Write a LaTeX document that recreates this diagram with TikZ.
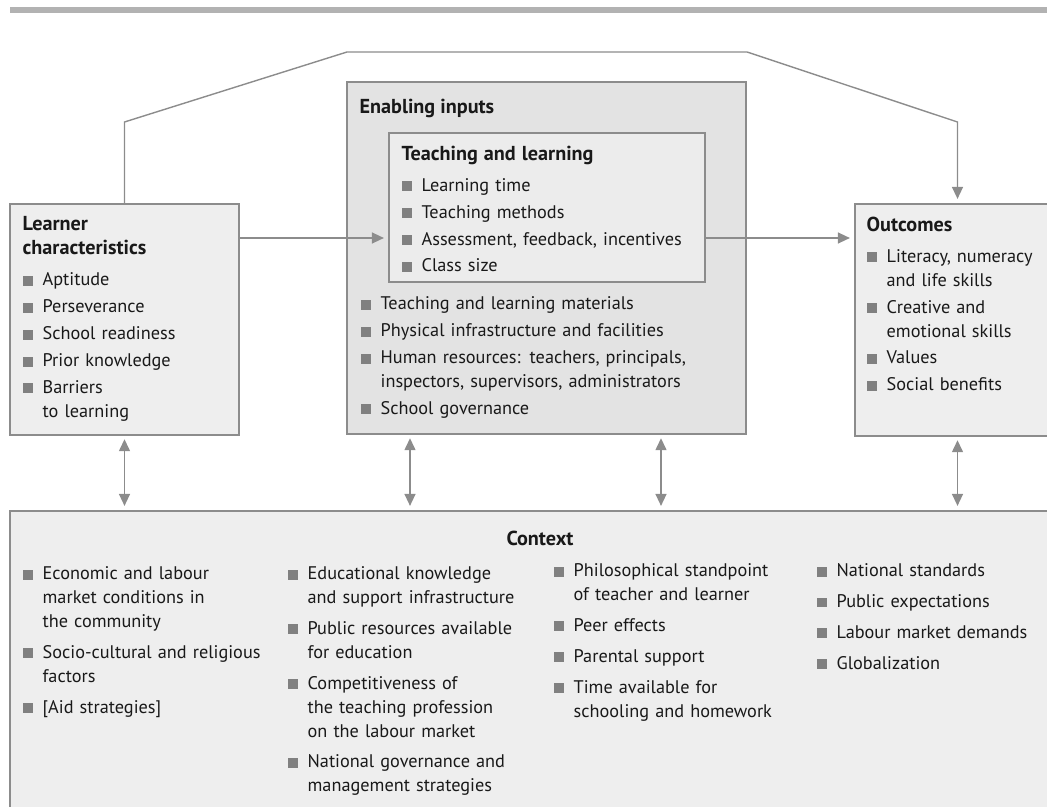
\documentclass[tikz,border=0pt]{standalone}
\usepackage{fontspec}
\setmainfont{PT Sans}
\usetikzlibrary{arrows.meta,fit,positioning}

\definecolor{linegray}{gray}{0.55}
\definecolor{rulegray}{gray}{0.7}
\definecolor{boxfill}{gray}{0.935}
\definecolor{enablefill}{gray}{0.89}
\definecolor{innerfill}{gray}{0.925}
\definecolor{bulletgray}{gray}{0.5}
\definecolor{textdark}{gray}{0.1}

% square bullet and list items
\newcommand{\sqbullet}{\textcolor{bulletgray}{\rule{0.2cm}{0.2cm}}}
\newcommand{\titlefont}{\fontsize{11.5}{13.6}\selectfont\bfseries}
\newcommand{\bitem}[1]{\par\hangindent=0.4cm\hangafter=1\noindent\makebox[0.4cm][l]{\sqbullet}#1\par}
\newcommand{\boxtitle}[1]{\noindent{\titlefont #1}\par\vspace{2.5pt}}

\tikzset{
  box/.style={draw=linegray, line width=0.8pt, fill=boxfill, inner sep=0pt},
  txt/.style={anchor=north west, inner sep=0pt, text=textdark, align=left,
    font=\fontsize{10.4}{13.6}\selectfont,
    execute at begin node={\setlength{\parskip}{1.7pt}}},
  ctxt/.style={txt, execute at begin node={\setlength{\parskip}{4pt}}},
  link/.style={draw=linegray, line width=0.8pt, -{Triangle[length=0.24cm,width=0.22cm]}, shorten >=2.5pt},
  both/.style={link, {Triangle[length=0.24cm,width=0.22cm]}-{Triangle[length=0.24cm,width=0.22cm]}, shorten <=2pt}
}

\begin{document}
\begin{tikzpicture}[x=0.02cm, y=-0.02cm]
\useasboundingbox (0,0) rectangle (1047,807);
\draw[line width=3pt, rulegray] (10,10) -- (1060,10);

% boxes
\node (learner) [box, fit={(10,204) (239,435)}] {};
\node (enabling) [box, fill=enablefill, fit={(347,82) (746,434)}] {};
\node (inner) [box, fill=innerfill, fit={(389,133) (705,282)}] {};
\node (outcomes) [box, fit={(855,204) (1060,436)}] {};
\node (context) [box, fit={(10,511) (1060,830)}] {};

% box texts
\node (learnertxt) [txt, text width=5cm] at ([shift={(13,13)}]learner.north west) {%
  \boxtitle{Learner\newline characteristics}%
  \bitem{Aptitude}
  \bitem{Perseverance}
  \bitem{School readiness}
  \bitem{Prior knowledge}
  \bitem{Barriers\newline to learning}};
\node (enabtitle) [txt, font=\titlefont] at ([shift={(13,17)}]enabling.north west) {Enabling inputs};
\node (innertxt) [txt, text width=6.5cm] at ([shift={(13,13)}]inner.north west) {%
  \boxtitle{Teaching and learning}%
  \bitem{Learning time}
  \bitem{Teaching methods}
  \bitem{Assessment, feedback, incentives}
  \bitem{Class size}};
\node (enablist) [txt, text width=8cm] at ([shift={(-28,0)}]inner.south west) {%
  \bitem{Teaching and learning materials}
  \bitem{Physical infrastructure and facilities}
  \bitem{Human resources: teachers, principals,\newline inspectors, supervisors, administrators}
  \bitem{School governance}};
\node (outtxt) [txt, text width=4.5cm] at ([shift={(12,13)}]outcomes.north west) {%
  \boxtitle{Outcomes}%
  \bitem{Literacy, numeracy\newline and life skills}
  \bitem{Creative and\newline emotional skills}
  \bitem{Values}
  \bitem{Social benefits}};
\node (ctxtitle) [inner sep=0pt, anchor=north, text=textdark, font=\titlefont] at ([shift={(5,20)}]context.north) {Context};
\node (col1) [ctxt, text width=5.5cm] at ([shift={(13,38)}]context.north west) {%
  \bitem{Economic and labour\newline market conditions in\newline the community}
  \bitem{Socio-cultural and religious\newline factors}
  \bitem{[Aid strategies]}};
\node (col2) [ctxt, text width=5.5cm] at ([shift={(278,38)}]context.north west) {%
  \bitem{Educational knowledge\newline and support infrastructure}
  \bitem{Public resources available\newline for education}
  \bitem{Competitiveness of\newline the teaching profession\newline on the labour market}
  \bitem{National governance and\newline management strategies}};
\node (col3) [ctxt, text width=5.5cm] at ([shift={(544,35)}]context.north west) {%
  \bitem{Philosophical standpoint\newline of teacher and learner}
  \bitem{Peer effects}
  \bitem{Parental support}
  \bitem{Time available for\newline schooling and homework}};
\node (col4) [ctxt, text width=5.5cm] at ([shift={(807,35)}]context.north west) {%
  \bitem{National standards}
  \bitem{Public expectations}
  \bitem{Labour market demands}
  \bitem{Globalization}};

% connectors
\coordinate (upL) at (124.5,122);
\coordinate (topL) at (347,52);
\coordinate (topR) at (747,52);
\coordinate (upR) at (957.5,122);
\coordinate (mid) at (0,238);
\coordinate (e1) at (410,0);
\coordinate (e2) at (661,0);
\draw[link] (learner.north) -- (upL) -- (topL) -- (topR) -- (upR) -- (outcomes.north);
\draw[link] (learner.east |- mid) -- (inner.west |- mid);
\draw[link] (inner.east |- mid) -- (outcomes.west |- mid);
\draw[both] (learner.south) -- (learner.south |- context.north);
\draw[both] (enabling.south -| e1) -- (context.north -| e1);
\draw[both] (enabling.south -| e2) -- (context.north -| e2);
\draw[both] (outcomes.south) -- (outcomes.south |- context.north);
\end{tikzpicture}
\end{document}
